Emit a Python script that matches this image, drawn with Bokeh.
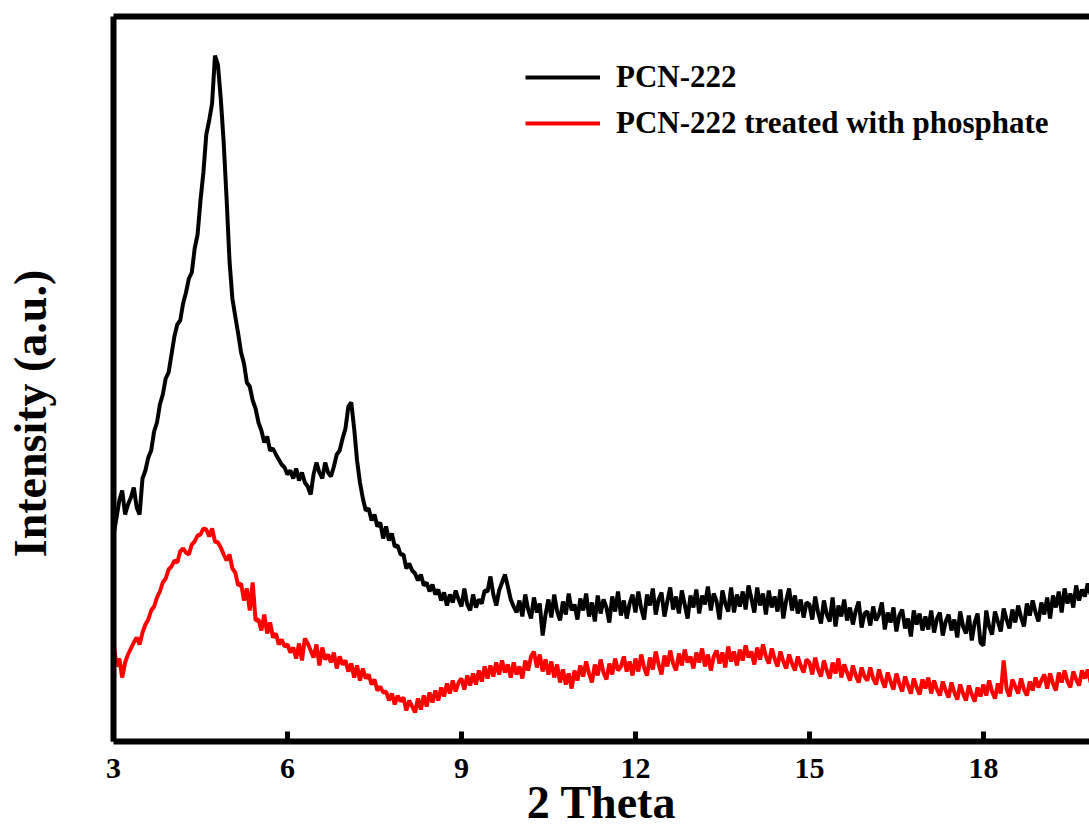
import numpy as np
from bokeh.plotting import figure
from bokeh.models import Range1d, LinearAxis, FixedTicker, Legend, LegendItem
from bokeh.embed import file_html
from bokeh.resources import INLINE

# ---- data ----
two_theta_start = 3.0
two_theta_step = 0.05
x_ticks = [3, 6, 9, 12, 15, 18]
series_names = ["PCN-222", "PCN-222 treated with phosphate"]
x_title = "2 Theta"
y_title = "Intensity (a.u.)"

pcn222 = [
    205, 222, 240, 250, 226, 236, 243, 253, 233, 226, 262, 270, 283, 290, 309, 318, 336, 346, 362, 368,
    386, 404, 416, 420, 437, 448, 462, 468, 492, 506, 540, 568, 606, 620, 637, 685, 676, 642, 598, 542,
    480, 442, 424, 407, 388, 377, 358, 354, 340, 332, 318, 310, 298, 304, 290, 292, 286, 281, 276, 273,
    266, 270, 262, 272, 260, 268, 258, 254, 246, 266, 278, 268, 262, 278, 268, 264, 274, 286, 290, 302,
    312, 334, 338, 312, 280, 258, 242, 230, 232, 220, 226, 214, 218, 202, 214, 200, 207, 194, 195, 186,
    186, 172, 177, 170, 167, 160, 166, 155, 158, 149, 156, 146, 151, 140, 148, 135, 146, 138, 150, 141,
    134, 152, 136, 130, 146, 133, 141, 137, 150, 149, 164, 146, 135, 150, 158, 166, 154, 141, 134, 128,
    140, 124, 146, 131, 122, 143, 128, 137, 105, 126, 141, 123, 146, 129, 120, 139, 126, 147, 130, 136,
    121, 142, 130, 147, 124, 138, 119, 145, 127, 141, 133, 118, 144, 129, 149, 125, 140, 122, 137, 146,
    128, 149, 132, 121, 146, 135, 152, 126, 141, 148, 124, 139, 153, 131, 144, 127, 150, 136, 122, 145,
    133, 151, 127, 145, 136, 154, 130, 147, 139, 121, 150, 137, 129, 153, 128, 146, 134, 149, 131, 155,
    142, 128, 153, 135, 147, 126, 150, 133, 144, 129, 151, 122, 140, 152, 130, 145, 127, 141, 123, 138,
    136, 121, 144, 128, 117, 140, 126, 119, 143, 114, 135, 124, 141, 120, 133, 116, 130, 139, 113, 127,
    129, 115, 134, 120, 126, 138, 111, 128, 118, 133, 109, 125, 131, 112, 122, 104, 130, 116, 127, 110,
    124, 111, 130, 108, 122, 128, 105, 119, 126, 110, 121, 103, 129, 114, 107, 125, 100, 118, 127, 98,
    95, 130, 114, 106, 129, 119, 109, 132, 121, 112, 131, 118, 135, 123, 114, 137, 125, 140, 128, 119,
    138, 126, 143, 122, 145, 133, 149, 128, 152, 137, 147, 133, 155, 140, 151, 144, 157, 146, 152,
]

pcn222_phosphate = [
    100, 74, 82, 63, 78, 86, 92, 98, 103, 96, 108, 116, 121, 130, 134, 143, 149, 158, 162, 171,
    174, 180, 178, 189, 192, 188, 186, 196, 199, 205, 206, 212, 211, 204, 212, 199, 198, 193, 186, 180,
    186, 172, 168, 155, 157, 140, 152, 130, 158, 120, 121, 110, 126, 107, 118, 103, 107, 96, 101, 94,
    96, 88, 93, 82, 97, 80, 102, 97, 90, 83, 96, 75, 93, 81, 86, 78, 88, 72, 84, 76,
    80, 69, 77, 63, 75, 60, 72, 62, 66, 56, 61, 50, 54, 48, 49, 40, 47, 36, 45, 39,
    43, 30, 40, 34, 28, 42, 31, 45, 34, 48, 38, 50, 40, 53, 44, 57, 47, 60, 49, 58,
    62, 51, 65, 55, 67, 56, 70, 59, 74, 62, 75, 64, 78, 66, 80, 68, 76, 63, 78, 66,
    74, 62, 80, 70, 84, 89, 73, 86, 69, 81, 66, 79, 63, 76, 58, 71, 56, 67, 52, 70,
    60, 75, 64, 79, 67, 58, 76, 65, 81, 68, 61, 77, 66, 82, 70, 74, 84, 69, 79, 65,
    82, 69, 86, 73, 65, 83, 71, 89, 76, 66, 85, 74, 90, 77, 70, 87, 75, 91, 78, 84,
    72, 88, 78, 92, 74, 86, 70, 84, 90, 77, 88, 73, 94, 79, 89, 75, 91, 80, 95, 83,
    89, 76, 93, 81, 96, 84, 77, 92, 82, 74, 89, 79, 72, 86, 77, 70, 84, 75, 68, 81,
    78, 66, 83, 71, 64, 80, 70, 62, 78, 67, 82, 63, 76, 68, 60, 75, 65, 58, 73, 64,
    60, 73, 62, 56, 71, 61, 53, 68, 59, 51, 67, 57, 49, 64, 55, 47, 62, 53, 46, 61,
    52, 63, 47, 60, 51, 45, 59, 50, 43, 58, 48, 41, 56, 47, 40, 55, 46, 39, 53, 44,
    56, 45, 60, 49, 42, 57, 47, 80, 52, 44, 61, 54, 47, 62, 51, 45, 59, 50, 63, 53,
    60, 66, 52, 67, 57, 50, 68, 58, 70, 59, 53, 69, 61, 55, 70, 62, 71, 58, 67,
]

x_black = two_theta_start + two_theta_step * np.arange(len(pcn222))
x_red = two_theta_start + two_theta_step * np.arange(len(pcn222_phosphate))

FONT = "Liberation Serif"

p = figure(width=1089, height=839,
           x_range=Range1d(3, 19.83), y_range=Range1d(-1, 724),
           output_backend="svg", toolbar_location=None,
           min_border_left=113, min_border_right=0,
           min_border_top=16, min_border_bottom=98)
p.grid.visible = False
p.outline_line_color = None
p.background_fill_color = "white"
p.border_fill_color = "white"

r1 = p.line(x_black, pcn222, line_color="#000000", line_width=4)
r2 = p.line(x_red, pcn222_phosphate, line_color="#ff0000", line_width=4)

# bottom axis
xa = p.xaxis[0]
xa.ticker = FixedTicker(ticks=x_ticks)
xa.axis_line_width = 6
xa.axis_line_color = "black"
xa.major_tick_in = 10
xa.major_tick_out = 0
xa.major_tick_line_width = 5
xa.major_tick_line_color = "black"
xa.minor_tick_in = 0
xa.minor_tick_out = 0
xa.major_label_text_font = FONT
xa.major_label_text_font_style = "bold"
xa.major_label_text_font_size = "30px"
xa.major_label_text_color = "black"
xa.major_label_standoff = 17
xa.axis_label = x_title
xa.axis_label_text_font = FONT
xa.axis_label_text_font_style = "bold"
xa.axis_label_text_font_size = "46px"
xa.axis_label_text_color = "black"
xa.axis_label_standoff = -4

# left axis
ya = p.yaxis[0]
ya.ticker = FixedTicker(ticks=[])
ya.axis_line_width = 6
ya.axis_line_color = "black"
ya.major_tick_in = 0
ya.major_tick_out = 0
ya.minor_tick_in = 0
ya.minor_tick_out = 0
ya.major_label_text_font_size = "0px"
ya.axis_label = y_title + "\u00a0" * 6
ya.axis_label_text_font = FONT
ya.axis_label_text_font_style = "bold"
ya.axis_label_text_font_size = "46px"
ya.axis_label_text_color = "black"
ya.axis_label_standoff = 58

# top border
top = LinearAxis(ticker=FixedTicker(ticks=[]), axis_line_width=6, axis_line_color="black",
                 major_tick_in=0, major_tick_out=0, minor_tick_in=0, minor_tick_out=0,
                 major_label_text_font_size="0px")
p.add_layout(top, "above")

legend = Legend(items=[LegendItem(label=series_names[0], renderers=[r1]),
                       LegendItem(label=series_names[1], renderers=[r2])],
                location=(412, 595))
legend.label_text_font = FONT
legend.label_text_font_style = "bold"
legend.label_text_font_size = "31px"
legend.label_text_color = "black"
legend.glyph_width = 75
legend.glyph_height = 46
legend.label_height = 46
legend.spacing = 0
legend.padding = 0
legend.margin = 0
legend.label_standoff = 16
legend.border_line_color = None
legend.background_fill_alpha = 0
p.add_layout(legend)

open("out.html", "w").write(file_html(p, INLINE))
